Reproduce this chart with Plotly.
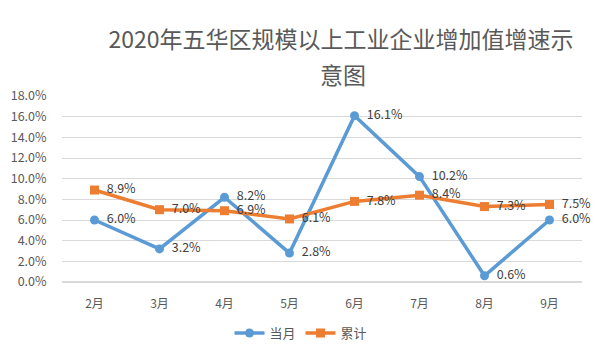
import plotly.graph_objects as go

months = ["2月", "3月", "4月", "5月", "6月", "7月", "8月", "9月"]
monthly = [6.0, 3.2, 8.2, 2.8, 16.1, 10.2, 0.6, 6.0]
cumulative = [8.9, 7.0, 6.9, 6.1, 7.8, 8.4, 7.3, 7.5]
y_ticks = [0, 2, 4, 6, 8, 10, 12, 14, 16, 18]

font = "Noto Sans CJK SC, Microsoft YaHei, sans-serif"
pad = "\u00a0\u00a0"

fig = go.Figure()
fig.add_trace(go.Scatter(
    x=months, y=[v / 100 for v in monthly], name="当月",
    mode="lines+markers+text",
    line=dict(color="#5B9BD5", width=3.5),
    marker=dict(symbol="circle", size=9, color="#5B9BD5"),
    text=[f"{pad}{v:.1f}%" for v in monthly], textposition="middle right",
    textfont=dict(size=12.5, color="#404040", family=font),
    cliponaxis=False,
))
fig.add_trace(go.Scatter(
    x=months, y=[v / 100 for v in cumulative], name="累计",
    mode="lines+markers+text",
    line=dict(color="#ED7D31", width=3.5),
    marker=dict(symbol="square", size=9, color="#ED7D31"),
    text=[f"{pad}{v:.1f}%" for v in cumulative], textposition="middle right",
    textfont=dict(size=12.5, color="#404040", family=font),
    cliponaxis=False,
))

fig.update_layout(
    width=601, height=360,
    paper_bgcolor="white", plot_bgcolor="white",
    margin=dict(l=62, r=19, t=96, b=78),
    font=dict(family=font, color="#595959", size=12),
    title=dict(text="2020年五华区规模以上工业企业增加值增速示",
               x=341 / 601, xref="container", xanchor="center",
               y=1 - 40 / 360, yref="container", yanchor="middle",
               font=dict(size=23, color="#595959", family=font)),
    annotations=[dict(text="意图", x=(343 - 62) / 520, xref="paper",
                      y=(360 - 78 - 74) / 186, yref="paper",
                      showarrow=False, xanchor="center", yanchor="middle",
                      font=dict(size=23, color="#595959", family=font))],
    showlegend=True,
    legend=dict(orientation="h", x=(301 - 62) / 520, xanchor="center",
                y=-51 / 186, yanchor="middle",
                font=dict(size=13, color="#595959", family=font)),
    xaxis=dict(type="category", range=[-0.5, 7.5], showgrid=False, showline=False,
               ticks="outside", ticklen=11, tickcolor="rgba(0,0,0,0)",
               tickfont=dict(size=12, color="#595959")),
    yaxis=dict(range=[0, 0.18], tickvals=[t / 100 for t in y_ticks], tickformat=".1%",
               showgrid=True, gridcolor="#D9D9D9", gridwidth=1, zeroline=True,
               zerolinecolor="#D9D9D9", showline=False,
               ticks="outside", ticklen=12, tickcolor="rgba(0,0,0,0)",
               tickfont=dict(size=12.5, color="#595959")),
)

fig.write_html("out.html", config={"displayModeBar": False},
               post_script="document.body.style.margin='0';")
